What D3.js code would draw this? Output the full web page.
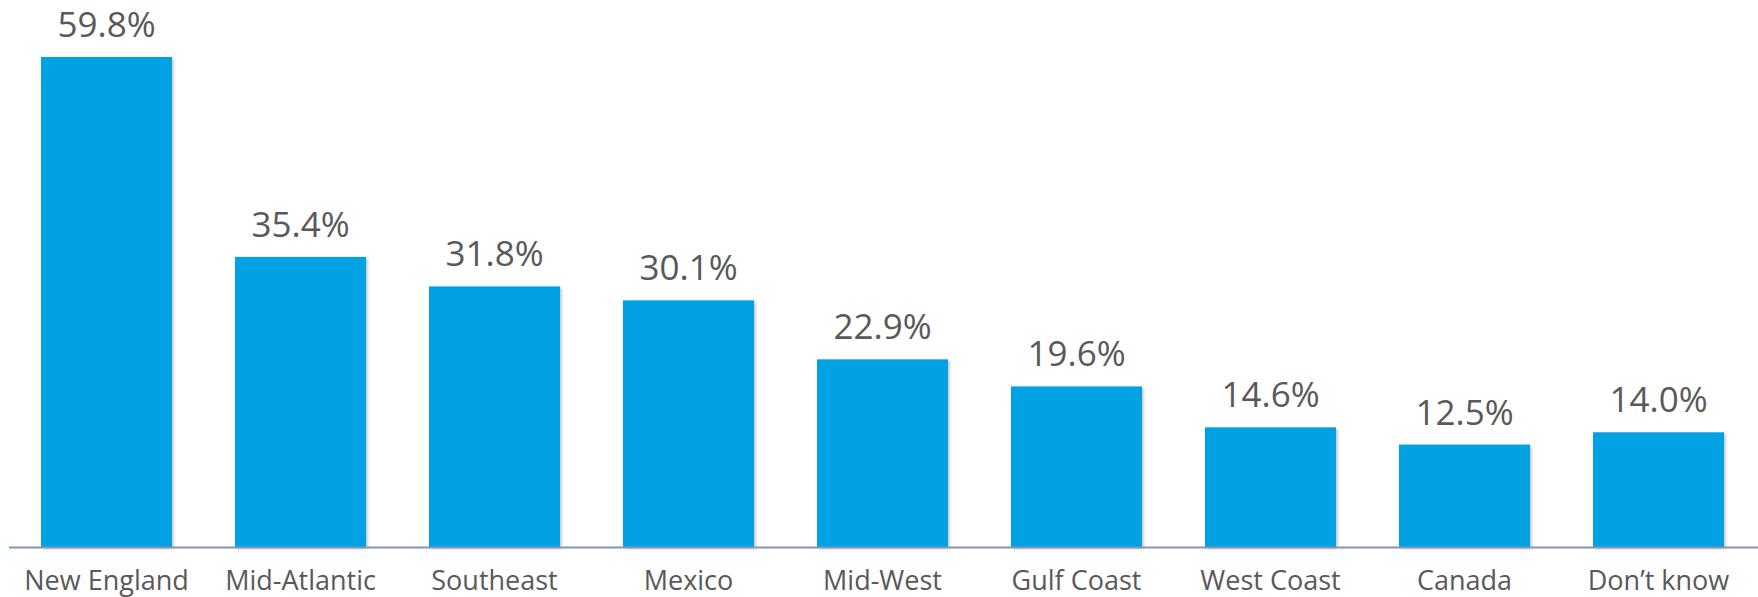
<!DOCTYPE html>
<html>
<head>
<meta charset="utf-8">
<script src="https://cdn.jsdelivr.net/npm/d3@7"></script>
<style>
  html, body { margin: 0; padding: 0; background: #fff; }
  svg { display: block; }
</style>
</head>
<body>
<div id="chart"></div>
<script>
// categories and values
const regions = ["New England", "Mid-Atlantic", "Southeast", "Mexico", "Mid-West",
  "Gulf Coast", "West Coast", "Canada", "Don\u2019t know"];
const shares = [59.8, 35.4, 31.8, 30.1, 22.9, 19.6, 14.6, 12.5, 14.0];

const width = 1758;
const height = 597;
const baseY = 547;

const svg = d3.select("#chart")
  .append("svg")
  .attr("width", width)
  .attr("height", height);

// soft shadow like the office chart
const defs = svg.append("defs");
const f = defs.append("filter").attr("id", "shadow")
  .attr("x", "-10%").attr("y", "-10%").attr("width", "130%").attr("height", "130%");
f.append("feDropShadow")
  .attr("dx", 1.5).attr("dy", 1.5).attr("stdDeviation", 1.5)
  .attr("flood-color", "#000").attr("flood-opacity", 0.25);

const xScale = d3.scaleBand()
  .domain(regions)
  .range([9.5, 9.5 + 194 * regions.length])
  .paddingInner(63 / 194)
  .paddingOuter(63 / 194 / 2);

const yScale = d3.scaleLinear()
  .domain([0, 59.8])
  .range([baseY, 57]);

const data = regions.map((r, i) => ({ region: r, value: shares[i] }));

svg.selectAll("rect.bar")
  .data(data)
  .enter()
  .append("rect")
  .attr("class", "bar")
  .attr("x", d => xScale(d.region))
  .attr("y", d => yScale(d.value))
  .attr("width", xScale.bandwidth())
  .attr("height", d => baseY - yScale(d.value))
  .attr("fill", "#03A2E4")
  .attr("filter", "url(#shadow)");

// value labels
svg.selectAll("text.val")
  .data(data)
  .enter()
  .append("text")
  .attr("class", "val")
  .attr("x", d => xScale(d.region) + xScale.bandwidth() / 2)
  .attr("y", d => yScale(d.value) - 20)
  .attr("text-anchor", "middle")
  .attr("font-family", "'Open Sans', sans-serif")
  .attr("font-size", 35)
  .attr("fill", "#595959")
  .text(d => d.value.toFixed(1) + "%");

// x axis
const xAxis = d3.axisBottom(xScale).tickSize(0).tickPadding(24);
const gx = svg.append("g")
  .attr("transform", `translate(0,${baseY})`)
  .call(xAxis);
gx.select(".domain")
  .attr("d", `M9,0.5H${width}`)
  .attr("stroke", "#8496B8")
  .attr("stroke-width", 2);
gx.selectAll(".tick text")
  .attr("font-family", "'Open Sans', sans-serif")
  .attr("font-size", 27)
  .attr("fill", "#595959");
</script>
</body>
</html>
